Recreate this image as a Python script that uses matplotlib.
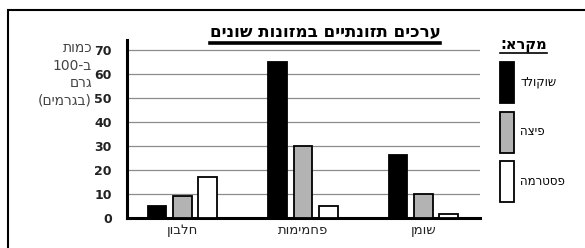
import matplotlib
matplotlib.use("Agg")
import matplotlib.pyplot as plt
import numpy as np
from matplotlib.lines import Line2D
from matplotlib.patches import Rectangle

# logical (RTL) Hebrew texts
title = "ערכים תזונתיים במזונות שונים"
categories = ["חלבון", "פחמימות", "שומן"]
series_names = ["שוקולד", "פיצה", "פסטרמה"]
chocolate = [5, 65, 26]
pizza = [9, 30, 10]
pastrami = [17, 5, 1.5]
yticks = [0, 10, 20, 30, 40, 50, 60, 70]
ylabel_lines = ["כמות", "ב-100", "גרם", "(בגרמים)"]
legend_title = "מקרא:"

colors = ["black", "#b3b3b3", "white"]
MIRROR = {"(": ")", ")": "("}


def vis(s):
    # crude bidi: reverse the string but keep runs of digits in order
    runs, cur = [], ""
    for ch in s:
        if ch.isdigit():
            cur += ch
        else:
            if cur:
                runs.append(cur)
                cur = ""
            runs.append(MIRROR.get(ch, ch))
    if cur:
        runs.append(cur)
    return "".join(reversed(runs))


plt.rcParams["font.family"] = ["DejaVu Sans"]

fig = plt.figure(figsize=(5.85, 2.48), dpi=100)
ax = fig.add_axes([127 / 585, 30 / 248, 353 / 585, 178 / 248])

x = np.arange(len(categories))
w = 0.155
step = 0.21
all_vals = [chocolate, pizza, pastrami]
bars = []
for i, vals in enumerate(all_vals):
    b = ax.bar(x + (i - 1) * step, vals, width=w, color=colors[i],
               edgecolor="black", linewidth=1.3, zorder=3,
               label=vis(series_names[i]))
    bars.append(b)

ax.set_xlim(-0.46, 2.47)
ax.set_ylim(0, 74)
ax.set_yticks(yticks)
ax.set_yticklabels([str(t) for t in yticks], fontsize=9, fontweight="bold",
                   color="#222222")
ax.set_xticks(x)
ax.set_xticklabels([vis(c) for c in categories], fontsize=9.5,
                   color="#222222")
ax.tick_params(axis="y", length=0, pad=11)
ax.tick_params(axis="x", length=0, pad=4)
ax.yaxis.grid(True, color="#8c8c8c", linewidth=0.9, zorder=0)
ax.set_axisbelow(True)
for s in ["top", "right"]:
    ax.spines[s].set_visible(False)
ax.spines["left"].set_linewidth(2.2)
ax.spines["bottom"].set_linewidth(2.2)

# y label, stacked lines right-aligned
ylab_y = [48, 66, 83, 100]
for txt, yy in zip(ylabel_lines, ylab_y):
    fig.text(92 / 585, 1 - yy / 248, vis(txt), ha="right", va="center",
             fontsize=10, color="#444444")

# title
t = fig.text(325 / 585, 1 - 32 / 248, vis(title), ha="center", va="center",
             fontsize=12, fontweight="bold")

# legend
leg = fig.legend(handles=bars, loc="upper left",
                 bbox_to_anchor=(500 / 585, 1 - 62 / 248), frameon=False,
                 handlelength=1.2, handleheight=5.0, labelspacing=0.7,
                 handletextpad=0.5, fontsize=8.5, borderaxespad=0,
                 borderpad=0)
lt = fig.text(500 / 585, 1 - 44 / 248, vis(legend_title), ha="left",
              va="center", fontsize=10.5, fontweight="bold")

# outer frame
fig.patches.append(Rectangle((8 / 585, -0.2), 1.0, 1 - 10 / 248 + 0.2,
                             transform=fig.transFigure, fill=False,
                             edgecolor="black", linewidth=1.5))

# underlines below title and legend heading
fig.canvas.draw()
r = fig.canvas.get_renderer()
for txt, lw in [(t, 2.6), (lt, 1.2)]:
    bb = txt.get_window_extent(r)
    y0 = bb.y0 - 1.5
    fig.add_artist(Line2D([bb.x0, bb.x1], [y0, y0], color="black",
                          linewidth=lw, transform=None))

fig.savefig("out.png", dpi=100)
